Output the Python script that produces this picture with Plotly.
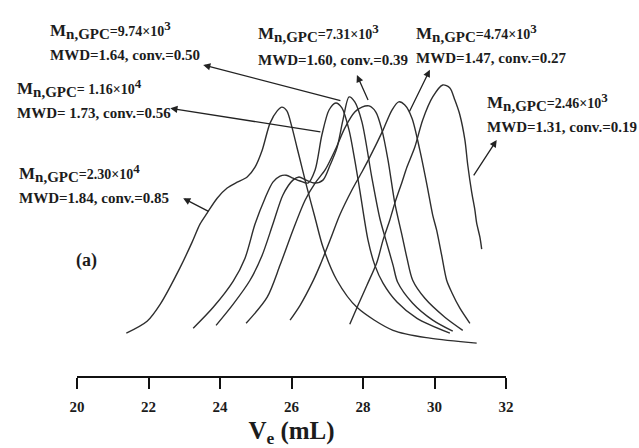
import plotly.graph_objects as go

# GPC traces: elution volume (mL) vs. normalised RI response (% of tallest peak)
ve_085 = [21.38, 21.96, 22.33, 22.89, 23.22, 23.44, 23.64, 23.92, 24.20, 24.48, 24.76, 24.98, 25.18, 25.40,
          25.60, 25.73, 25.87, 26.01, 26.15, 26.29, 26.43, 26.66, 26.88, 27.27, 27.83, 28.84, 29.87, 31.18]
ri_085 = [14.7, 18.8, 24.7, 37.4, 46.0, 52.2, 56.0, 61.1, 64.6, 66.6, 68.4, 71.8, 77.6, 86.9,
          91.1, 92.4, 91.1, 85.6, 78.7, 71.8, 64.9, 54.3, 44.3, 32.9, 23.6, 15.7, 13.0, 11.3]

ve_056 = [23.25, 23.81, 24.37, 24.70, 24.98, 25.26, 25.48, 25.68, 25.85, 26.04, 26.24, 26.46, 26.66,
          26.85, 27.05, 27.24, 27.41, 27.61, 27.77, 27.91, 28.14, 28.33, 28.56, 28.95, 29.51, 30.43]
ri_056 = [16.4, 23.6, 32.6, 40.5, 52.2, 61.1, 66.6, 68.7, 69.0, 68.0, 67.0, 66.3, 70.8,
          82.8, 91.4, 93.8, 92.1, 84.5, 74.2, 63.9, 46.7, 38.1, 31.9, 25.4, 19.8, 14.7]

ve_050 = [23.89, 24.37, 24.84, 25.18, 25.48, 25.76, 26.04, 26.21, 26.41, 26.66, 26.88, 27.08, 27.27,
          27.44, 27.61, 27.77, 27.97, 28.25, 28.47, 28.64, 28.84, 28.97, 29.39, 29.95, 30.51]
ri_050 = [17.4, 24.7, 32.9, 41.5, 52.2, 62.2, 67.3, 68.4, 67.3, 66.3, 67.3, 72.5, 78.3,
          88.0, 95.9, 94.2, 87.3, 68.0, 54.2, 46.7, 38.1, 32.2, 25.0, 19.2, 15.4]

ve_039 = [24.73, 25.32, 25.68, 26.04, 26.38, 26.66, 26.94, 27.22, 27.49, 27.77, 27.97, 28.17, 28.36,
          28.53, 28.70, 28.89, 29.09, 29.23, 29.39, 29.73, 30.29, 30.79]
ri_039 = [18.1, 27.1, 38.1, 50.1, 60.4, 66.3, 70.8, 77.6, 85.2, 90.7, 92.4, 92.8, 90.7,
          84.5, 74.2, 59.4, 48.4, 40.5, 32.9, 26.7, 20.2, 15.7]

ve_027 = [25.96, 26.24, 26.60, 26.80, 27.08, 27.35, 27.69, 27.97, 28.19, 28.56, 28.81, 29.00, 29.17,
          29.37, 29.59, 29.79, 29.95, 30.06, 30.20, 30.34, 30.48, 30.71, 30.99]
ri_027 = [19.2, 24.3, 32.6, 38.1, 46.7, 55.3, 63.9, 70.1, 75.2, 84.5, 91.4, 94.2, 93.1,
          88.6, 77.6, 65.6, 55.3, 50.1, 41.5, 32.9, 28.8, 23.3, 18.1]

ve_019 = [27.63, 27.86, 28.11, 28.39, 28.56, 28.75, 28.89, 29.09, 29.23, 29.45, 29.67, 29.95, 30.23,
          30.43, 30.57, 30.71, 30.85, 30.93, 31.04, 31.13, 31.18, 31.27, 31.32]
ri_019 = [17.8, 24.3, 31.2, 39.1, 46.7, 53.6, 59.4, 66.6, 71.8, 78.7, 88.0, 95.9, 100.0,
          99.0, 94.8, 89.7, 81.1, 72.5, 63.2, 57.0, 52.5, 47.7, 43.6]

traces = [(ve_085, ri_085), (ve_056, ri_056), (ve_050, ri_050),
          (ve_039, ri_039), (ve_027, ri_027), (ve_019, ri_019)]

# Sample descriptors
mn_mantissa = ["2.30", " 1.16", "9.74", "7.31", "4.74", "2.46"]
mn_exponent = ["4", "4", "3", "3", "3", "3"]
mwd = ["1.84", " 1.73", "1.64", "1.60", "1.47", "1.31"]
conversion = ["0.85", "0.56", "0.50", "0.39", "0.27", "0.19"]
x_ticks = [20, 22, 24, 26, 28, 30, 32]

# Plot-area geometry (pixels)
W, H = 639, 448
L, R, T, B = 77, 133, 0, 72
PW, PH = W - L - R, H - T - B
Y_TOP = 129.2


def paper(px, py):
    return (px - L) / PW, (H - B - py) / PH


# Label block placement: left edge, centre of first line, centre of second line (px)
label_pos = [(17, 173, 198), (15, 88, 113), (48, 30, 55),
             (256, 33, 60), (414, 33, 58), (485, 102, 127)]
# Arrow head (at label) and tail (on trace), in axis units
arrow_head = [(22.97, 61.1), (22.61, 92.0), (23.53, 106.9), (27.83, 103.4), (29.87, 105.2), (31.74, 81.1)]
arrow_tail = [(23.72, 56.3), (26.85, 83.8), (27.41, 94.5), (28.16, 94.3), (29.28, 90.4), (31.07, 68.4)]

SERIF = "Liberation Serif, Times New Roman, serif"
INK = "#1c1c1c"

fig = go.Figure()
for ve, ri in traces:
    fig.add_trace(go.Scatter(x=ve, y=ri, mode="lines",
                             line=dict(color="#2e2e2e", width=1.4, shape="spline", smoothing=0.8),
                             hoverinfo="skip", showlegend=False))


def mn_text(m, e):
    return ('<span style="font-size:17px">M</span>'
            '<sub><span style="font-size:15px">n,GPC</span></sub>'
            f'<span style="font-size:14px">={m}×10</span>'
            f'<sup><span style="font-size:13px">{e}</span></sup>')


annotations = []
for i in range(6):
    lx, y1, y2 = label_pos[i]
    px1, py1 = paper(lx, y1)
    px2, py2 = paper(lx, y2)
    annotations.append(dict(text=mn_text(mn_mantissa[i], mn_exponent[i]), x=px1, y=py1,
                            xref="paper", yref="paper", xanchor="left", yanchor="middle",
                            showarrow=False, font=dict(family=SERIF, size=15, color=INK, weight="bold")))
    annotations.append(dict(text=f"MWD={mwd[i]}, conv.={conversion[i]}", x=px2, y=py2,
                            xref="paper", yref="paper", xanchor="left", yanchor="middle",
                            showarrow=False, font=dict(family=SERIF, size=15, color=INK, weight="bold")))
    hx, hy = arrow_head[i]
    tx, ty = arrow_tail[i]
    annotations.append(dict(text="", x=hx, y=hy, ax=tx, ay=ty, xref="x", yref="y",
                            axref="x", ayref="y", showarrow=True, arrowhead=2, arrowsize=1.1,
                            arrowwidth=1.3, arrowcolor="#222", standoff=0, startstandoff=0))

ax_, ay_ = paper(86, 260)
annotations.append(dict(text="(a)", x=ax_, y=ay_, xref="paper", yref="paper",
                        xanchor="center", yanchor="middle", showarrow=False,
                        font=dict(family=SERIF, size=18, color=INK, weight="bold")))

fig.update_layout(
    width=W, height=H,
    margin=dict(l=L, r=R, t=T, b=B, pad=0),
    paper_bgcolor="white", plot_bgcolor="white",
    annotations=annotations,
    xaxis=dict(range=[20, 32], tickvals=x_ticks, ticks="outside", ticklen=11, tickwidth=2,
               tickcolor="#111", showline=True, linewidth=2, linecolor="#111",
               showgrid=False, zeroline=False, automargin=False, ticklabelstandoff=5,
               tickfont=dict(family=SERIF, size=15, color=INK, weight="bold"),
               title=dict(text="V<sub>e</sub> (mL)", standoff=9,
                          font=dict(family=SERIF, size=25, color=INK, weight="bold"))),
    yaxis=dict(range=[0, Y_TOP], visible=False, showgrid=False, zeroline=False),
)

fig.write_html("out.html")
